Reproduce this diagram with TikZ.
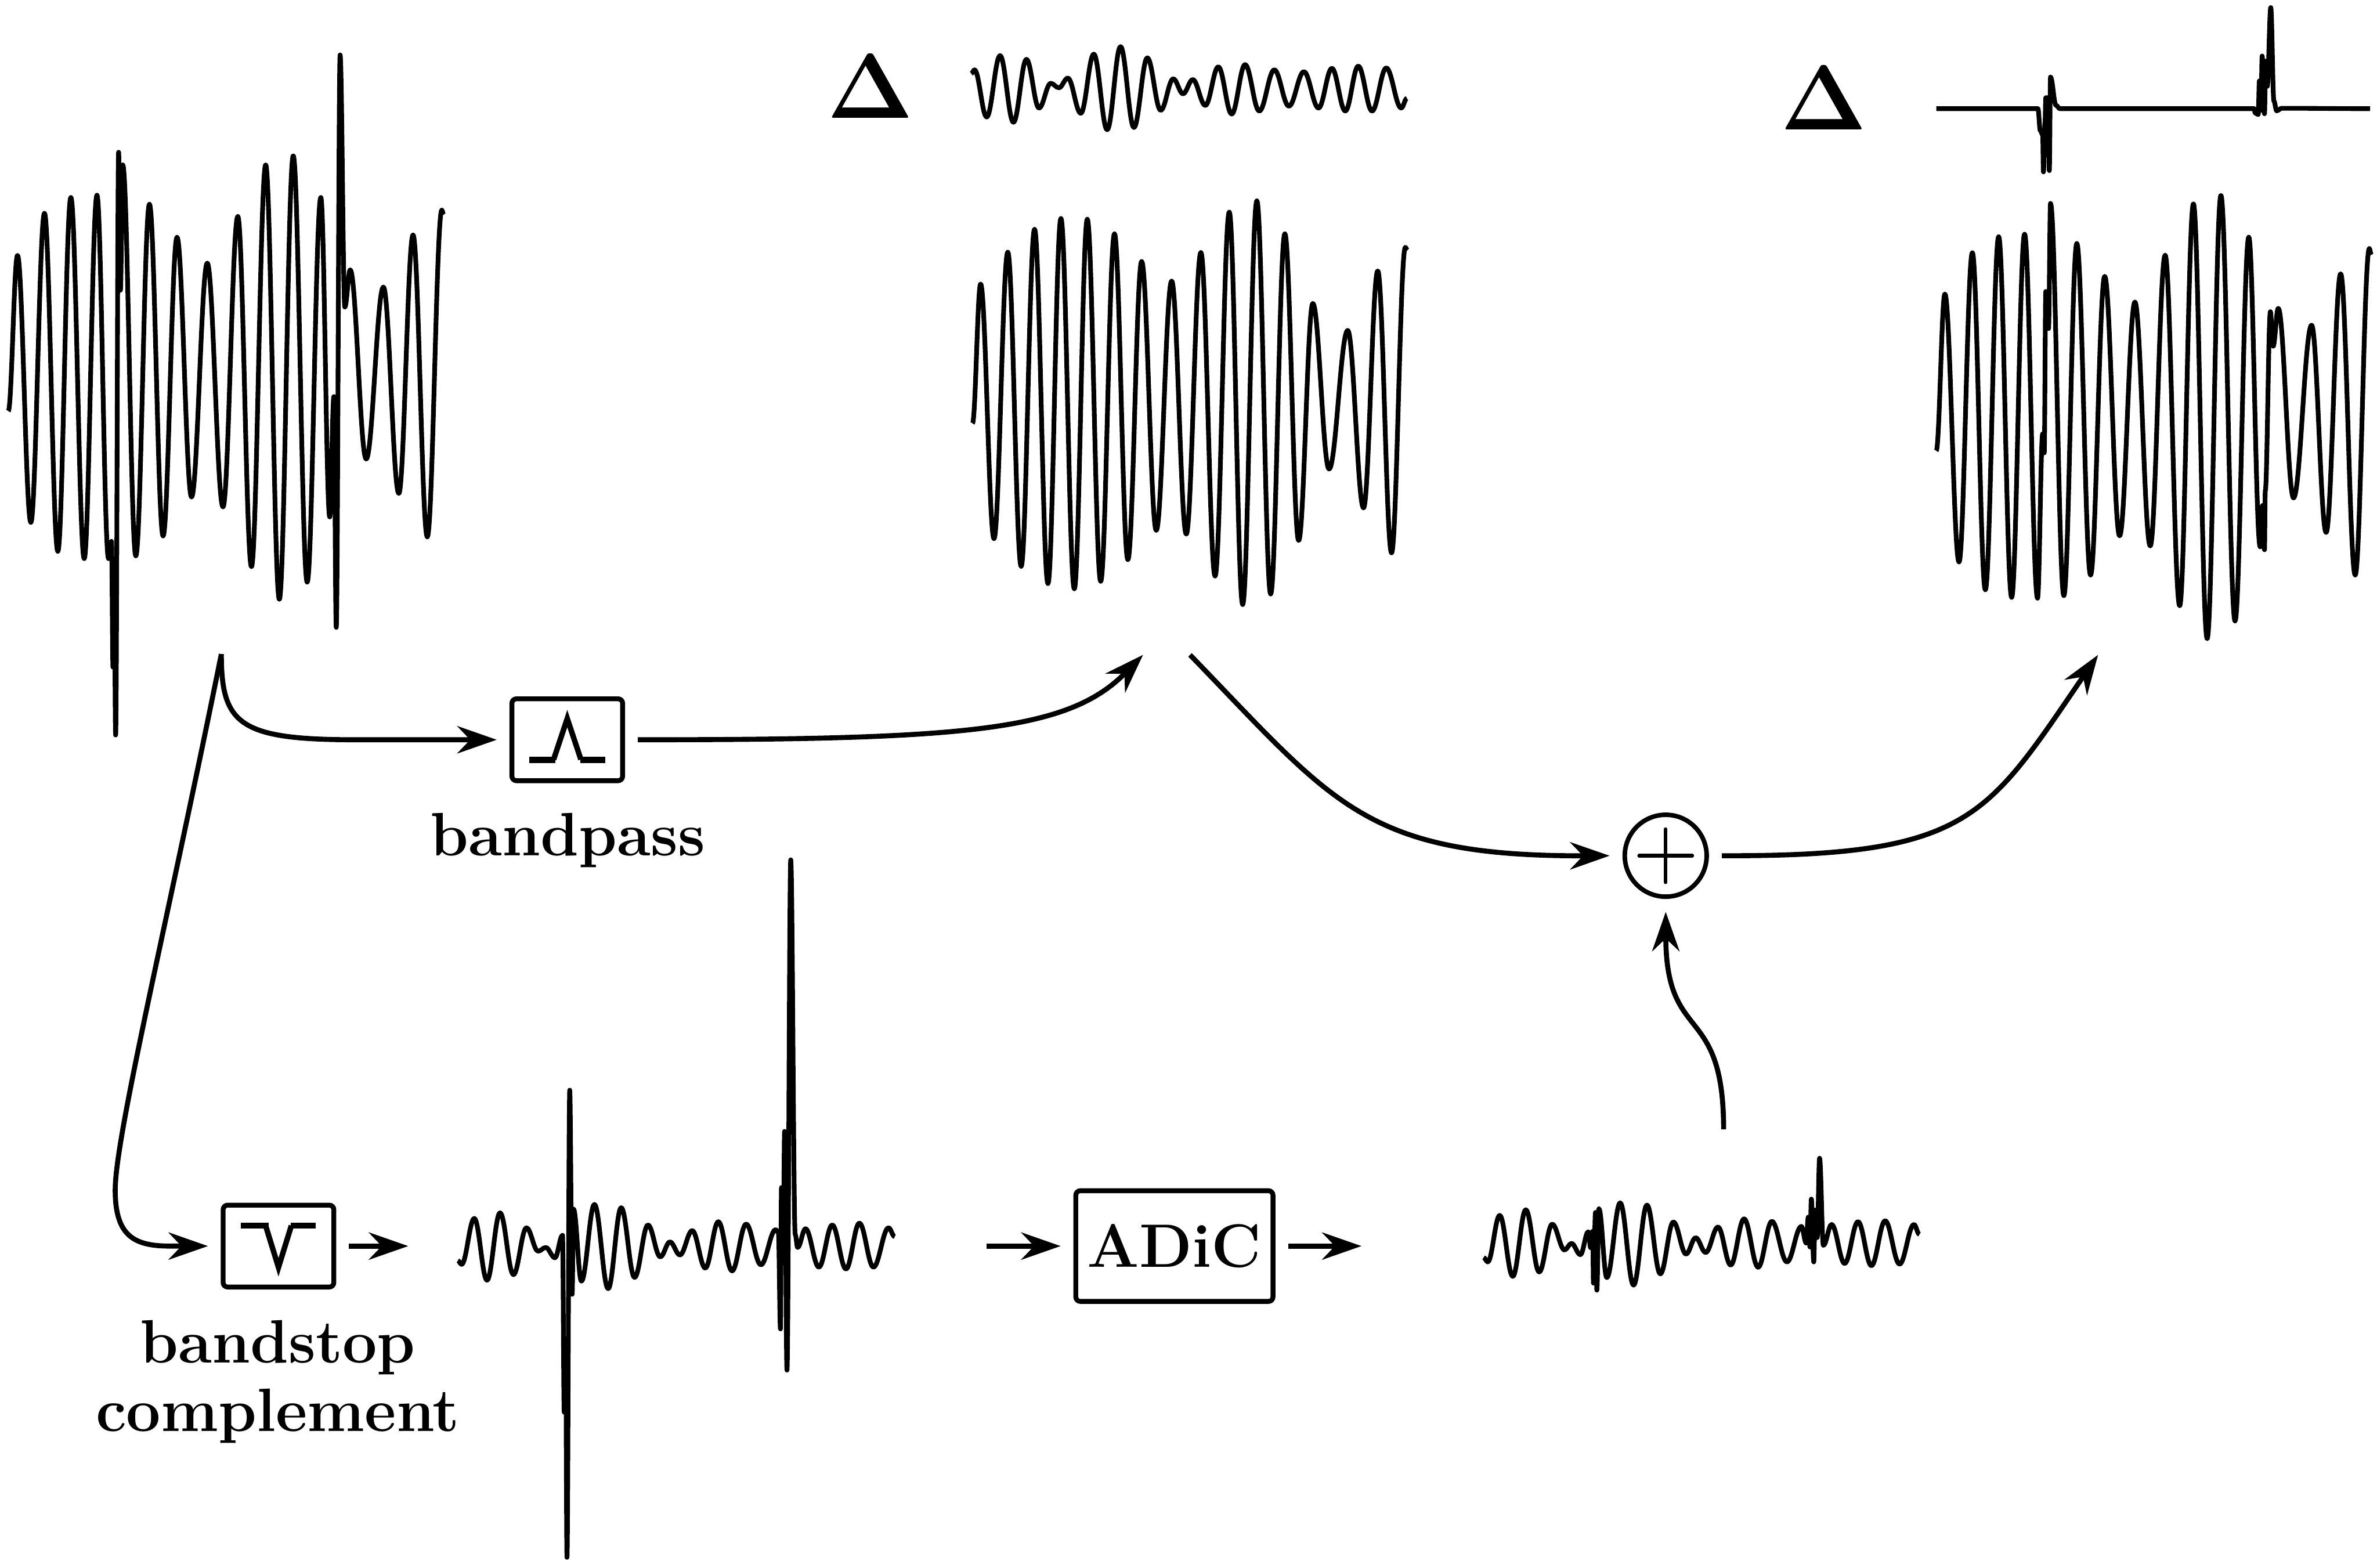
\documentclass[tikz,border=0pt]{standalone}
\usetikzlibrary{positioning,arrows.meta}

\tikzset{
  trace/.style={line width=0.031cm,line join=round},
  conn/.style={line width=0.033cm,-{Stealth[length=0.26cm,width=0.18cm,inset=0.085cm]}},
  filterbox/.style={draw,line width=0.032cm,rounded corners=0.03cm,outer sep=0.1cm,minimum width=0.73cm,minimum height=0.54cm},
  flatstroke/.style={line width=0.042cm},
  slopestroke/.style={line width=0.036cm,line join=miter},
  caption/.style={font=\fontsize{11.5}{12.9}\selectfont\bfseries,align=center,inner sep=0pt},
  bigdelta/.style={font=\fontsize{17}{20}\selectfont,inner sep=0pt}
}

% cosine arcs through the turning points of a signal
\newcommand{\signal}[4]{%
  \begin{scope}[#1]
    \draw[trace] (#2,#3) foreach \px/\py [remember=\px as \qx (initially #2),remember=\py as \qy (initially #3)] in {#4}
      { .. controls ({\qx+0.37*(\px-\qx)},\qy) and ({\px-0.37*(\px-\qx)},\py) .. (\px,\py) };
  \end{scope}}

\begin{document}
\begin{tikzpicture}[x=0.01cm,y=-0.01cm]
\useasboundingbox (0,0) rectangle (1568,1034.1);

% input signal
\signal{shift={(0,25.8)},xscale=0.1956,yscale=0.2985}{28}{822}{59/478,104/1068,150/385,195/1132,239/350,284/1148,327/345,366/1148,376/1110,381/1388,385/1200,390/1538,400/250,406/555,414/278,458/1142,504/365,550/1098,597/438,646/1012,699/495,752/1034,802/392,848/1166,896/278,942/1238,989/258,1036/1200,1082/350,1112/1056,1126/790,1134/1300,1147/35,1163/592,1181/510,1235/928,1293/548,1345/1004,1393/433,1441/1100,1490/378,1496/388}

% bandpassed signal and its delta
\node[bigdelta] (deltamid) at (574.3,57) {$\mathbf{\Delta}$};
\signal{shift={(532.6,19.4)},xscale=0.2676,yscale=0.2470}{404}{118}{412/108,442/234,475/70,508/248,540/80,571/210,600/144,620/156,642/130,674/224,706/66,739/268,772/46,805/262,838/76,871/216,902/132,926/172,950/134,981/203,1013/100,1046/226,1079/94,1114/218,1151/108,1187/205,1224/113,1260/210,1293/104,1326/218,1358/98,1392/218,1427/103,1464/210,1478/184}
\signal{shift={(532.6,19.4)},xscale=0.2676,yscale=0.2470}{407}{1052}{427/680,460/1360,494/595,527/1434,560/534,593/1480,625/505,658/1494,690/507,723/1474,757/546,790/1416,824/620,860/1338,898/672,934/1348,970/596,1005/1460,1040/488,1073/1536,1108/458,1142/1508,1177/546,1211/1365,1246/732,1286/1174,1332/804,1371/1278,1406/645,1440/1398,1474/582,1479/590}

% output signal and its delta
\node[bigdelta] (deltaout) at (1203,64.8) {$\mathbf{\Delta}$};
\signal{shift={(1162,0)},xscale=0.2590,yscale=0.2779}{445}{258}{704/258,710/310,716/320,718/408,722/290,724/232,730/232,733/405,736/183,750/250,760/258,1255/258,1257/268,1265/272,1268/192,1272/262,1275/133,1281/270,1284/145,1288/205,1297/18,1305/240,1312/263,1325/257,1550/258}
\signal{shift={(1162,0)},xscale=0.2590,yscale=0.2779}{445}{1070}{467/698,503/1334,537/600,570/1400,604/562,637/1418,670/556,703/1420,716/1030,720/1075,724/692,731/780,736/483,770/1414,803/578,838/1365,874/656,912/1272,951/717,990/1296,1028/606,1065/1438,1100/484,1135/1516,1170/464,1206/1474,1241/563,1270/1298,1276/1200,1281/1305,1283/1165,1296/740,1303/822,1316/732,1355/1182,1401/772,1438/1264,1475/650,1512/1365,1548/590,1553/605}

% residual signal before and after the ADiC block
\signal{shift={(274.4,548.7)},xscale=0.2264,yscale=0.3088}{122}{916}{133/924,170/826,207/958,245/814,284/946,322/846,356/896,378/888,405/910,427/862,432/1240,436/1100,440/1550,448/552,455/988,459/806,482/960,520/796,560/976,598/803,637/952,676/840,712/908,740/876,769/904,805/852,843/932,881/833,921/938,962/838,1005/925,1048/850,1056/856,1062/1062,1065/760,1070/900,1074/640,1081/1150,1092/60,1105/860,1112/888,1135/848,1174/930,1213/840,1253/934,1292/836,1333/930,1377/846,1395/865}
\signal{shift={(936.1,727.8)},xscale=0.2264,yscale=0.1036}{188}{982}{200/1010,235/714,273/1102,311/678,350/1074,388/770,424/934,444/892,470/964,493/818,500/920,506/815,508/1145,514/695,518/1190,524/672,547/1110,586/634,625/1158,664/648,703/1086,741/756,778/960,806/856,835/950,871/788,908/1030,947/736,988/1044,1028/752,1072/1010,1114/784,1128/890,1134/725,1139/915,1143/610,1150/1010,1154/680,1160/855,1167/350,1178/905,1202/772,1240/1020,1279/754,1318/1034,1358/748,1400/1024,1442/772,1458/835}

% blocks
\node[filterbox] (bandpass) at (374.2,488) {};
\draw[flatstroke] ([shift={(-25,13.3)}]bandpass.center) -- ([shift={(-8,13.3)}]bandpass.center);
\draw[flatstroke] ([shift={(8.5,13.3)}]bandpass.center) -- ([shift={(25,13.3)}]bandpass.center);
\draw[slopestroke] ([shift={(-9,13)}]bandpass.center) -- ([shift={(0,-14)}]bandpass.center) -- ([shift={(9,13)}]bandpass.center);
\node[caption,anchor=base] (bandpasslabel) at (374.5,564.5) {bandpass};

\node[filterbox] (bandstop) at (183.7,822) {};
\draw[flatstroke] ([shift={(-25,-13.5)}]bandstop.center) -- ([shift={(-6.5,-13.5)}]bandstop.center);
\draw[flatstroke] ([shift={(8,-13.5)}]bandstop.center) -- ([shift={(24.6,-13.5)}]bandstop.center);
\draw[slopestroke] ([shift={(-8.5,-13.5)}]bandstop.center) -- ([shift={(0,14)}]bandstop.center) -- ([shift={(8.5,-13.5)}]bandstop.center);
\node[caption] (bandstoplabel) at (183.2,911.5) {bandstop\\complement};

\node[filterbox,minimum width=1.3cm,minimum height=0.73cm,font=\fontsize{11.5}{13}\selectfont\bfseries,inner sep=0pt] (adic) at (774.7,822) {ADiC};

\node[draw,circle,line width=0.03cm,minimum size=0.54cm,inner sep=0pt,outer sep=0.1cm] (sum) at (1098.8,564.5) {};
\draw[line width=0.024cm,line cap=round] ([xshift=-0.175cm]sum.center) -- ([xshift=0.175cm]sum.center);
\draw[line width=0.024cm,line cap=round] ([yshift=-0.175cm]sum.center) -- ([yshift=0.175cm]sum.center);

% free ends of the connectors
\coordinate (split) at (146,431.5);
\coordinate (midin) at (754,432);
\coordinate (midout) at (785,432);
\coordinate (outin) at (1384,432);
\coordinate (residin) at (269.3,822);
\coordinate (residout) at (650.7,822);
\coordinate (adicout) at (898.1,822);
\coordinate (corrected) at (1137,745);

\draw[conn] (split) .. controls (146,478) and (158,488) .. (235,488) -- (bandpass.west);
\draw[conn] (split) .. controls (110,610) and (76,750) .. (76,785) .. controls (76,815) and (88,822) .. (112,822) -- (bandstop.west);
\draw[conn] (bandpass.east) .. controls (640,488) and (705,482) .. (midin);
\draw[conn] (midout) .. controls (880,530) and (900,565) .. (sum.west);
\draw[conn] (sum.east) .. controls (1300,565) and (1310,540) .. (outin);
\draw[conn] (corrected) .. controls (1137,660) and (1099,690) .. (sum.south);
\draw[conn] (bandstop.east) -- (residin);
\draw[conn] (residout) -- (adic.west);
\draw[conn] (adic.east) -- (adicout);
\end{tikzpicture}
\end{document}
